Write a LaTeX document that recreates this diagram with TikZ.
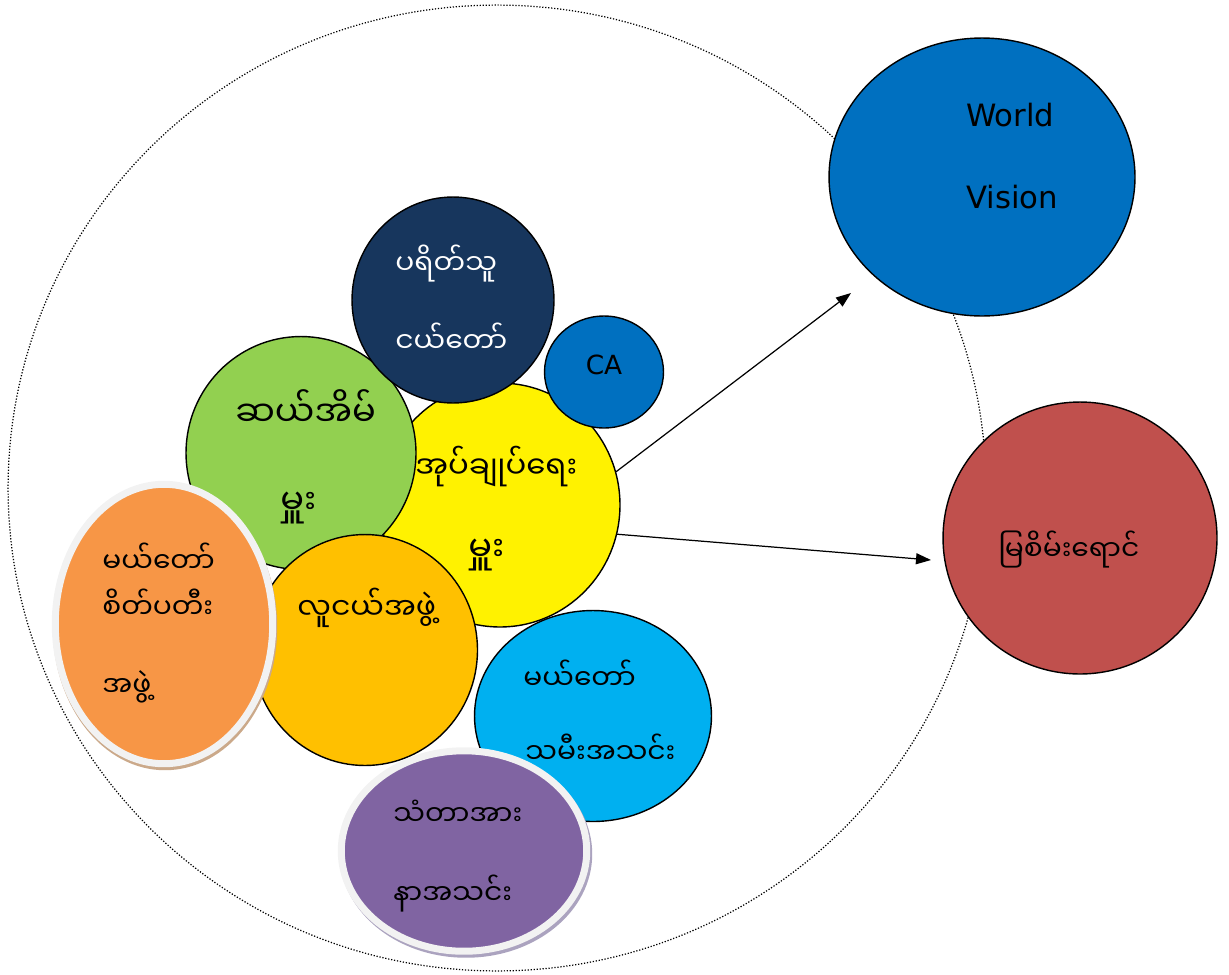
\documentclass[tikz,border=0pt]{standalone}
\usepackage{fontspec}
\setmainfont{DejaVu Sans}
\newfontfamily\mmfont[Script=Myanmar]{Noto Sans Myanmar UI}
\usetikzlibrary{shapes.geometric, arrows.meta}

\definecolor{wvblue}{HTML}{0070C0}
\definecolor{navy}{HTML}{17365D}
\definecolor{leaf}{HTML}{92D050}
\definecolor{amber}{HTML}{FFC000}
\definecolor{sky}{HTML}{00B0F0}
\definecolor{peach}{HTML}{F79646}
\definecolor{plum}{HTML}{8064A2}
\definecolor{brick}{HTML}{C0504D}
\definecolor{rim}{HTML}{F2F2F2}
\definecolor{peachshade}{HTML}{CBA98A}
\definecolor{plumshade}{HTML}{ABA3BF}

\begin{document}
\begin{tikzpicture}[x=0.02cm, y=-0.02cm, >={Triangle[length=3mm,width=2.2mm]},
  blob/.style={draw, ellipse, line width=0.8pt, inner sep=0pt},
  ringed/.style={draw=rim, ellipse, line width=0.14cm, inner sep=0pt},
  word/.style={inner sep=0pt, anchor=west, font=\mmfont\fontsize{16}{18}\selectfont},
  bigword/.style={word, font=\mmfont\fontsize{20}{22}\selectfont}]
  \useasboundingbox (0,0) rectangle (1229,974);
  \node[draw, densely dotted, line width=0.7pt, ellipse, inner sep=0pt, minimum width=19.56cm, minimum height=19.32cm] (town) at (497,488) {};

  \node[blob, fill=yellow, minimum width=4.8cm, minimum height=4.88cm] (admin) at (500,505) {};
  \node[blob, fill=leaf, minimum width=4.6cm, minimum height=4.66cm] (tenhouse) at (301,453) {};
  \node[blob, fill=navy, minimum width=4.04cm, minimum height=4.12cm] (parish) at (453,300) {};
  \node[blob, fill=wvblue, minimum width=2.38cm, minimum height=2.24cm] (ca) at (604,372) {};
  \node[blob, fill=amber, minimum width=4.5cm, minimum height=4.62cm] (youth) at (365,650) {};
  \node[blob, fill=sky, minimum width=4.74cm, minimum height=4.22cm] (daughters) at (593,716) {};
  \node[ellipse, fill=peachshade, minimum width=4.49cm, minimum height=5.73cm] (legionshade) at (165,627) {};
  \node[ringed, fill=peach, minimum width=4.35cm, minimum height=5.59cm] (legion) at (164,624) {};
  \node[ellipse, fill=plumshade, minimum width=5.05cm, minimum height=4.15cm] (annashade) at (466,854) {};
  \node[ringed, fill=plum, minimum width=4.91cm, minimum height=4.01cm] (anna) at (464,851) {};
  \node[blob, fill=wvblue, minimum width=6.12cm, minimum height=5.56cm] (wv) at (982,177) {};
  \node[blob, fill=brick, minimum width=5.48cm, minimum height=5.44cm] (green) at (1080,538) {};

  \node[word, text=white] (parish1) at (395,264) {ပရိတ်သူ};
  \node[word, text=white] (parish2) at (395,338) {ငယ်တော်};
  \node[font=\fontsize{15}{17}\selectfont] (catext) at (604,365) {CA};
  \node[anchor=west, font=\fontsize{17.5}{20}\selectfont] (wv1) at (960,115) {World};
  \node[anchor=west, font=\fontsize{17.5}{20}\selectfont] (wv2) at (960,197) {Vision};
  \node[word] (green1) at (998,550) {မြစိမ်းရောင်};
  \node[bigword, font=\mmfont\fontsize{17.5}{20}\selectfont] (admin1) at (415,466) {အုပ်ချုပ်ရေး};
  \node[bigword] (admin2) at (468,555) {မှူး};
  \node[bigword] (tenhouse1) at (235,408) {ဆယ်အိမ်};
  \node[bigword] (tenhouse2) at (280,508) {မှူး};
  \node[word, font=\mmfont\fontsize{17}{19}\selectfont] (youth1) at (297,608) {လူငယ်အဖွဲ့};
  \node[word] (legion1) at (102,558) {မယ်တော်};
  \node[word] (legion2) at (102,604) {စိတ်ပတီး};
  \node[word] (legion3) at (102,687) {အဖွဲ့};
  \node[word] (daughters1) at (523,675) {မယ်တော်};
  \node[word] (daughters2) at (525,749) {သမီးအသင်း};
  \node[word] (anna1) at (393,813) {သံတာအား};
  \node[word] (anna2) at (393,894) {နာအသင်း};

  \coordinate (wvtip) at (851,293);
  \coordinate (greentip) at (931,560);
  \draw[->, line width=0.7pt] (admin.16) -- (wvtip);
  \draw[->, line width=0.7pt] (admin.-14) -- (greentip);
\end{tikzpicture}
\end{document}
